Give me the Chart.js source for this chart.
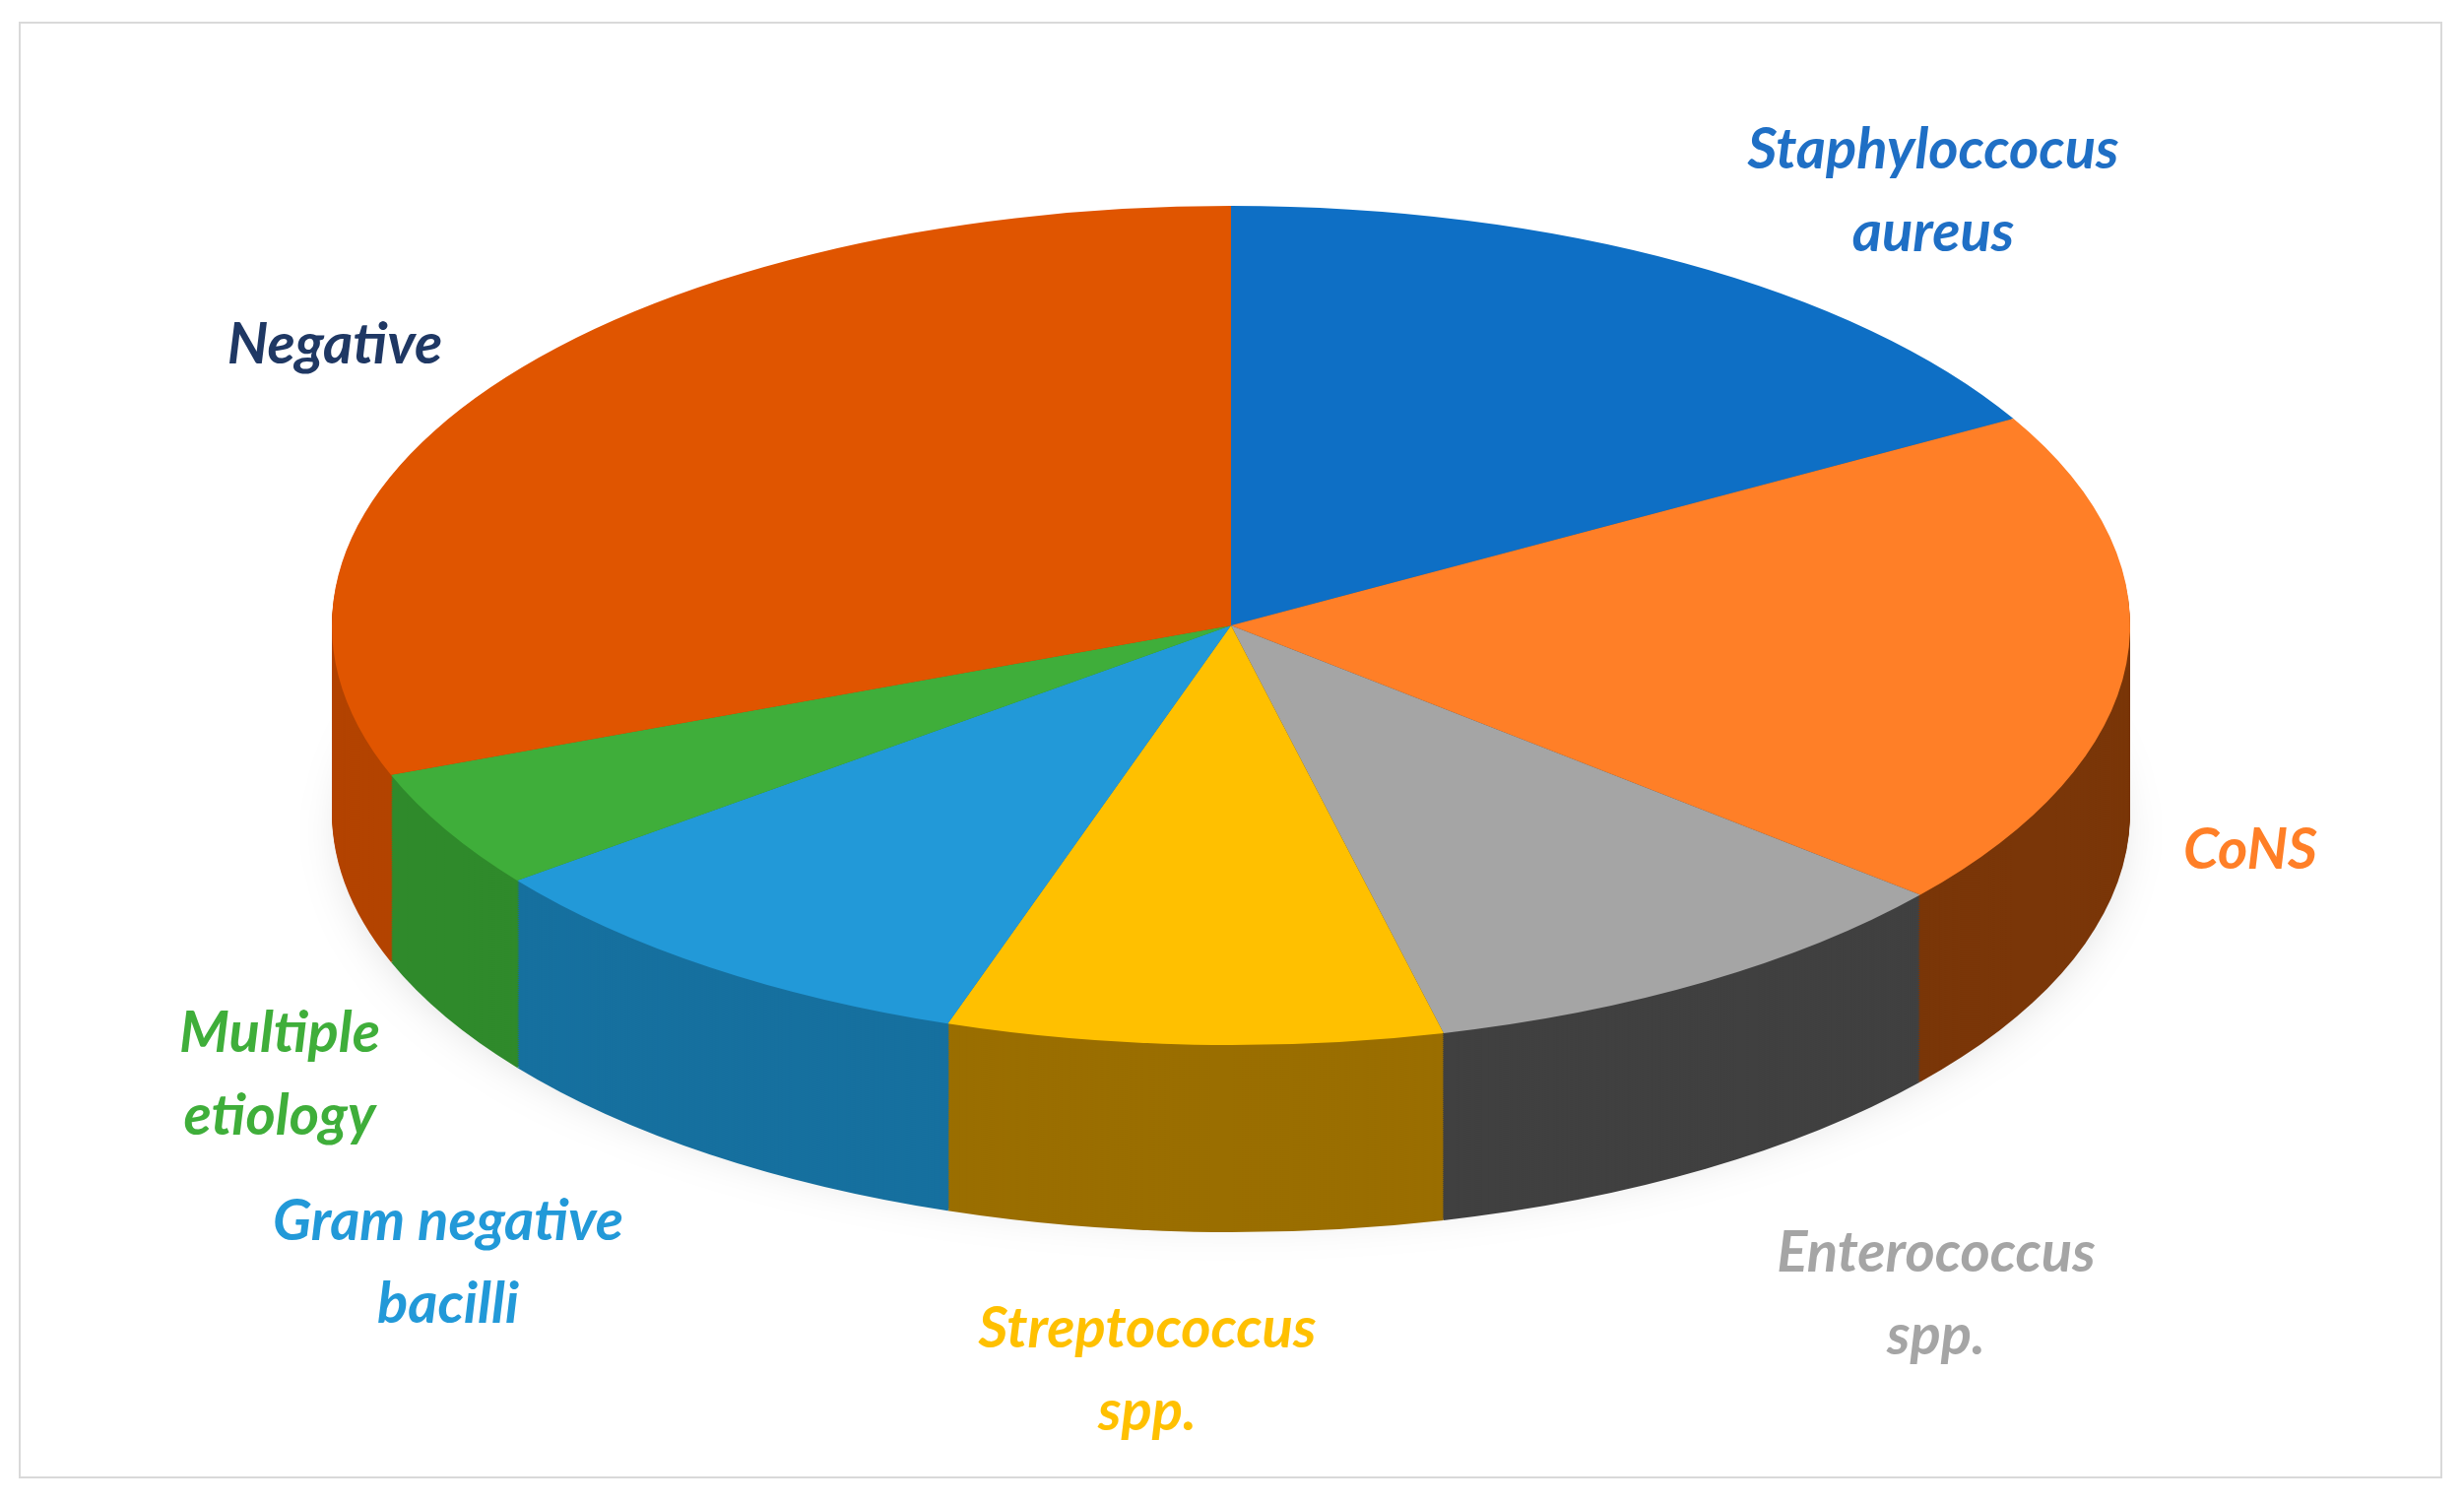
<!DOCTYPE html>
<html>
<head>
<meta charset="utf-8">
<script src="https://cdn.jsdelivr.net/npm/chart.js@4"></script>
<style>
  html, body { margin: 0; padding: 0; background: #fff; }
  #wrap { position: absolute; left: 0; top: 0; width: 2502px; height: 1528px; }
  #frame { position: absolute; left: 19px; top: 22px; width: 2461px; height: 1479px; border: 2px solid #d9d9d9; box-sizing: border-box; }
</style>
</head>
<body>
<div id="wrap">
  <div id="frame"></div>
  <canvas id="pie" width="2502" height="1528"></canvas>
</div>
<script>
const labels = ['Staphyloccocus aureus', 'CoNS', 'Enterococcus spp.', 'Streptococcus spp.', 'Gram negative bacilli', 'Multiple etiology', 'Negative'];
const values = [16.8, 19.3, 10.1, 8.9, 9.5, 4.6, 30.8];
const colors = ['#0e6fc5', '#ff7f27', '#a5a5a5', '#ffc000', '#2299d8', '#3fae3a', '#e05500'];
const sideColors = ['#0a4f8c', '#7a3608', '#404040', '#9a6e00', '#16709f', '#2f8a2b', '#b34300'];
const labelColors = ['#1f6fc5', '#ff7f27', '#a5a5a5', '#ffc000', '#2299d8', '#3fae3a', '#1f3864'];
const labelLines = [['Staphyloccocus', 'aureus'], ['CoNS'], ['Enterococcus', 'spp.'], ['Streptococcus', 'spp.'], ['Gram negative', 'bacilli'], ['Multiple', 'etiology'], ['Negative']];
const labelPos = [[1963, 152], [2285, 863], [1966, 1272], [1165, 1349], [455, 1240], [284, 1049], [340, 350]];

// where the flat pie is pushed to: centre and ellipse radii
const cx = 1250, cy = 635, rx = 913, ry = 426, depth = 190;

const tilt = {
  id: 'tilt',
  beforeDatasetsDraw(chart) {
    const ctx = chart.ctx;
    const arcs = chart.getDatasetMeta(0).data;
    const r = arcs[0].outerRadius, x = arcs[0].x, y = arcs[0].y;
    // soft shadow
    ctx.save();
    ctx.filter = 'blur(25px)';
    ctx.fillStyle = 'rgba(0,0,0,0.18)';
    ctx.beginPath();
    ctx.ellipse(cx, cy + depth + 20, rx * 0.98, ry * 0.9, 0, 0, Math.PI * 2);
    ctx.fill();
    ctx.restore();
    // side walls
    for (let d = depth; d > 0; d -= 2) {
      arcs.forEach(function (a, i) {
        ctx.save();
        ctx.translate(cx, cy + d);
        ctx.scale(rx / r, ry / r);
        ctx.beginPath();
        ctx.moveTo(0, 0);
        ctx.arc(0, 0, r, a.startAngle, a.endAngle);
        ctx.closePath();
        ctx.fillStyle = sideColors[i];
        ctx.fill();
        ctx.restore();
      });
    }
    ctx.save();
    ctx.translate(cx, cy);
    ctx.scale(rx / r, ry / r);
    ctx.translate(-x, -y);
  },
  afterDatasetsDraw(chart) {
    const ctx = chart.ctx;
    ctx.restore();
    ctx.save();
    ctx.font = 'italic bold 58px Lato';
    ctx.textAlign = 'center';
    ctx.textBaseline = 'middle';
    labelLines.forEach(function (lines, i) {
      ctx.fillStyle = labelColors[i];
      lines.forEach(function (t, j) {
        ctx.fillText(t, labelPos[i][0], labelPos[i][1] + j * 84);
      });
    });
    ctx.restore();
  }
};

const myChart = new Chart(document.getElementById('pie'), {
  type: 'pie',
  data: {
    labels: labels,
    datasets: [{ data: values, backgroundColor: colors, borderWidth: 0 }]
  },
  options: {
    responsive: false,
    animation: false,
    plugins: { legend: { display: false }, tooltip: { enabled: false } }
  },
  plugins: [tilt]
});
</script>
</body>
</html>
